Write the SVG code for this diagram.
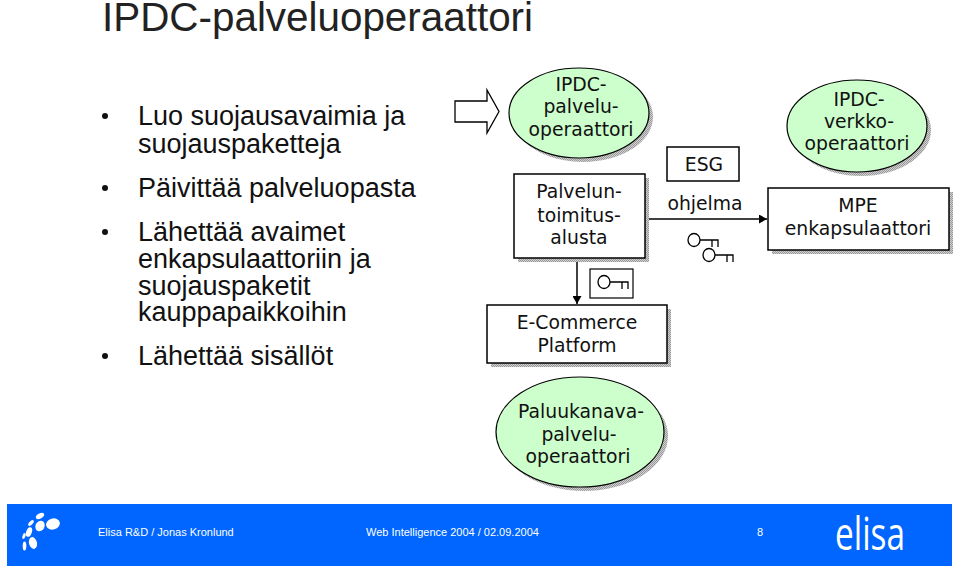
<svg xmlns="http://www.w3.org/2000/svg" width="960" height="574" viewBox="0 0 960 574">
<style>
.t{font-family:"Liberation Sans",Arial,sans-serif;fill:#111}
.title{font-size:40.400px;fill:#222}
.b{font-size:27px}
.n{font-family:"DejaVu Sans",Verdana,sans-serif;font-size:18.800px;fill:#111;text-anchor:middle}
.box{fill:#fff;stroke:#000;stroke-width:1.500}
.oval{fill:#ccffcc;stroke:#000;stroke-width:1.200}
.l{fill:none;stroke:#000;stroke-width:1.500}
.f{font-family:"Liberation Sans",Arial,sans-serif;font-size:11px;fill:#fff}
</style>
<defs>
<pattern id="sh" width="2" height="2" patternUnits="userSpaceOnUse"><rect width="2" height="2" fill="#d0d0d0"/><rect width="1" height="1" fill="#999"/><rect x="1" y="1" width="1" height="1" fill="#999"/></pattern>
<marker id="ah" markerWidth="9" markerHeight="9" refX="8" refY="4.500" orient="auto" markerUnits="userSpaceOnUse"><path d="M0 0L8 4.500L0 9Z" fill="#000"/></marker>
<g id="key" fill="none" stroke="#000" stroke-width="1.300"><ellipse cx="0" cy="0" rx="6" ry="6.500"/><path d="M6 0H24V7M18 0V7"/></g>
</defs>
<rect width="960" height="574" fill="#fff"/>
<text class="t title" x="102" y="31">IPDC-palveluoperaattori</text>
<g id="bullets" fill="#111">
<circle cx="105" cy="116" r="3"/><circle cx="105" cy="188" r="3"/><circle cx="105" cy="232" r="3"/><circle cx="105" cy="356" r="3"/>
<text class="t b" x="138" y="125">Luo suojausavaimia ja</text>
<text class="t b" x="138" y="153">suojauspaketteja</text>
<text class="t b" x="138" y="197">Päivittää palveluopasta</text>
<text class="t b" x="138" y="241">Lähettää avaimet</text>
<text class="t b" x="138" y="268">enkapsulaattoriin ja</text>
<text class="t b" x="138" y="295">suojauspaketit</text>
<text class="t b" x="138" y="321">kauppapaikkoihin</text>
<text class="t b" x="138" y="365">Lähettää sisällöt</text>
</g>
<g id="connectors">
<path class="l" d="M649 219H767" marker-end="url(#ah)"/>
<path class="l" d="M577 262V304" marker-end="url(#ah)"/>
</g>
<g id="block-arrow"><path d="M455 101H487V90L499 111.500L487 133V122H455Z" fill="#fff" stroke="#000" stroke-width="1.300"/></g>
<g id="n-ipdc-operator"><ellipse fill="url(#sh)" cx="583" cy="117" rx="70" ry="45"/><ellipse class="oval" cx="579" cy="113" rx="70" ry="45"/>
<text class="n" x="581" y="91">IPDC-</text><text class="n" x="581" y="113">palvelu-</text><text class="n" x="581" y="136">operaattori</text></g>
<g id="n-palvelu"><rect fill="url(#sh)" x="518" y="178" width="131" height="84"/><rect class="box" x="514" y="174" width="131" height="84"/>
<text class="n" x="579" y="198">Palvelun-</text><text class="n" x="579" y="222">toimitus-</text><text class="n" x="579" y="244">alusta</text></g>
<g id="n-esg"><rect class="box" x="667" y="147" width="72" height="34"/><text class="n" x="704" y="171">ESG</text></g>
<g id="n-ohjelma"><text class="n" x="705" y="210">ohjelma</text></g>
<g id="n-keys"><use href="#key" x="694" y="240"/><use href="#key" x="709" y="255"/></g>
<g id="n-ipdc-network"><ellipse fill="url(#sh)" cx="861" cy="130" rx="70" ry="46"/><ellipse class="oval" cx="857" cy="126" rx="70" ry="46"/>
<text class="n" x="859" y="106">IPDC-</text><text class="n" x="859" y="128">verkko-</text><text class="n" x="857" y="150">operaattori</text></g>
<g id="n-mpe"><rect fill="url(#sh)" x="772" y="192" width="181" height="62"/><rect class="box" x="768" y="188" width="181" height="62"/>
<text class="n" x="858" y="212">MPE</text><text class="n" x="858" y="235">enkapsulaattori</text></g>
<g id="n-keybox"><rect fill="#fff" stroke="#000" stroke-width="1.200" x="590" y="269" width="43" height="29"/><use href="#key" x="604" y="282"/></g>
<g id="n-ecommerce"><rect fill="url(#sh)" x="491" y="309" width="180" height="58"/><rect class="box" x="487" y="305" width="180" height="58"/>
<text class="n" x="577" y="329">E-Commerce</text><text class="n" x="577" y="352">Platform</text></g>
<g id="n-return"><ellipse fill="url(#sh)" cx="584" cy="436" rx="84" ry="55"/><ellipse class="oval" cx="580" cy="432" rx="84" ry="55"/>
<text class="n" x="581" y="418">Paluukanava-</text><text class="n" x="579" y="441">palvelu-</text><text class="n" x="578" y="463">operaattori</text></g>
<g id="footer">
<rect x="7" y="504" width="945" height="62" fill="#0066ff"/>
<g fill="#fff"><ellipse cx="53" cy="524" rx="7" ry="5.500" transform="rotate(-15 53 524)"/><ellipse cx="40" cy="526" rx="4.500" ry="5.500" transform="rotate(25 40 526)"/><ellipse cx="40" cy="516" rx="4.500" ry="2.500" transform="rotate(-30 40 516)"/><ellipse cx="31" cy="523" rx="3.500" ry="1.800" transform="rotate(-45 31 523)"/><ellipse cx="29" cy="532" rx="2.800" ry="5" transform="rotate(20 29 532)"/><ellipse cx="24" cy="536" rx="1.500" ry="3" transform="rotate(20 24 536)"/><ellipse cx="33" cy="543" rx="4" ry="6" transform="rotate(-15 33 543)"/><ellipse cx="24.500" cy="546" rx="1.800" ry="4.500"/></g>
<text class="f" x="98" y="536">Elisa R&amp;D / Jonas Kronlund</text>
<text class="f" x="366" y="536">Web Intelligence 2004 / 02.09.2004</text>
<text class="f" x="757" y="536">8</text>
<text x="835" y="550" textLength="70" lengthAdjust="spacingAndGlyphs" style="font-family:'Open Sans',sans-serif;font-size:46px;fill:#fff">elisa</text>
</g>
</svg>
